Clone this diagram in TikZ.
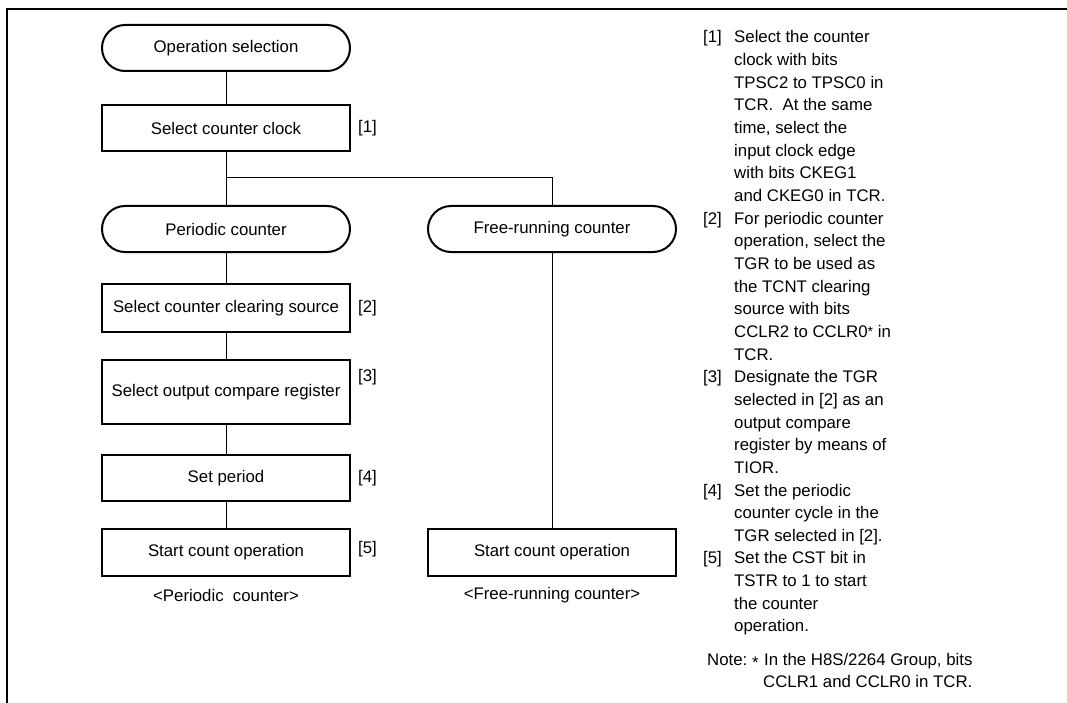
\documentclass[tikz,border=0pt]{standalone}
\usepackage{fontspec}
\setmainfont{Liberation Sans}
\newcommand\myfs{\fontsize{16.8pt}{22.65pt}\selectfont}
\begin{document}
\begin{tikzpicture}[x=1pt,y=-1pt,
  box/.style={draw, line width=2pt, minimum width=248pt, minimum height=46pt, inner sep=0pt, font=\myfs},
  term/.style={box, rounded corners=23pt},
  conn/.style={line width=1pt},
  txt/.style={anchor=base west, inner sep=0pt, font=\myfs},
  lbl/.style={inner sep=0pt, font=\myfs}]
\useasboundingbox (0,0) rectangle (1067,703);
\draw[line width=2pt] (7,703) -- (7,9) -- (1067,9);

% flowchart nodes
\node[term] (op) at (226,48) {Operation selection};
\node[box] (clk) at (226,128) {Select counter clock};
\node[term] (per) at (226,229) {Periodic counter};
\node[term] (free) at (552,229) {Free-running counter};
\node[box, minimum height=48pt] (clr) at (226,308) {Select counter clearing source};
\node[box, minimum height=64pt] (ocr) at (226,392) {Select output compare register};
\node[box] (setp) at (226,478) {Set period};
\node[box, minimum height=47pt] (st1) at (226,552.5) {Start count operation};
\node[box, minimum height=47pt] (st2) at (552,552.5) {Start count operation};
\node[lbl] (c1) at (226,595) {<Periodic\ \ counter>};
\node[lbl] (c2) at (552,595) {<Free-running counter>};

% step labels
\node[lbl, anchor=west] (s1) at (358,128) {[1]};
\node[lbl, anchor=west] (s2) at (358,308) {[2]};
\node[lbl, anchor=west] (s3) at (358,377) {[3]};
\node[lbl, anchor=west] (s4) at (358,478) {[4]};
\node[lbl, anchor=west] (s5) at (358,549) {[5]};

% connectors
\coordinate (j) at (226,178);
\draw[conn] (op.south) -- (clk.north);
\draw[conn] (clk.south) -- (per.north);
\draw[conn] (j) -| (free.north);
\draw[conn] (per.south) -- (clr.north);
\draw[conn] (clr.south) -- (ocr.north);
\draw[conn] (ocr.south) -- (setp.north);
\draw[conn] (setp.south) -- (st1.north);
\draw[conn] (free.south) -- (st2.north);

% right-hand notes
\foreach \t [count=\i from 0] in {
  {Select the counter},{clock with bits},{TPSC2 to TPSC0 in},{TCR.\ \ At the same},
  {time, select the},{input clock edge},{with bits CKEG1},{and CKEG0 in TCR.},
  {For periodic counter},{operation, select the},{TGR to be used as},{the TCNT clearing},
  {source with bits},{CCLR2 to CCLR0{\fontsize{14pt}{14pt}\selectfont\raisebox{1pt}{*}} in},{TCR.},
  {Designate the TGR},{selected in [2] as an},{output compare},{register by means of},{TIOR.},
  {Set the periodic},{counter cycle in the},{TGR selected in [2].},
  {Set the CST bit in},{TSTR to 1 to start},{the counter},{operation.}}
  \node[txt] (r\i) at (734,{43+22.65*\i}) {\t};
\foreach \n/\k in {1/0,2/8,3/15,4/20,5/23}
  \node[txt] (n\n) at (703,{43+22.65*\k}) {[\n]};
\node[txt] (note) at (707,665) {Note:};
\node[txt] (star) at (752,665) {\raisebox{-3pt}{*}};
\node[txt] (note1) at (764,665) {In the H8S/2264 Group, bits};
\node[txt] (note2) at (763,687) {CCLR1 and CCLR0 in TCR.};
\end{tikzpicture}
\end{document}
